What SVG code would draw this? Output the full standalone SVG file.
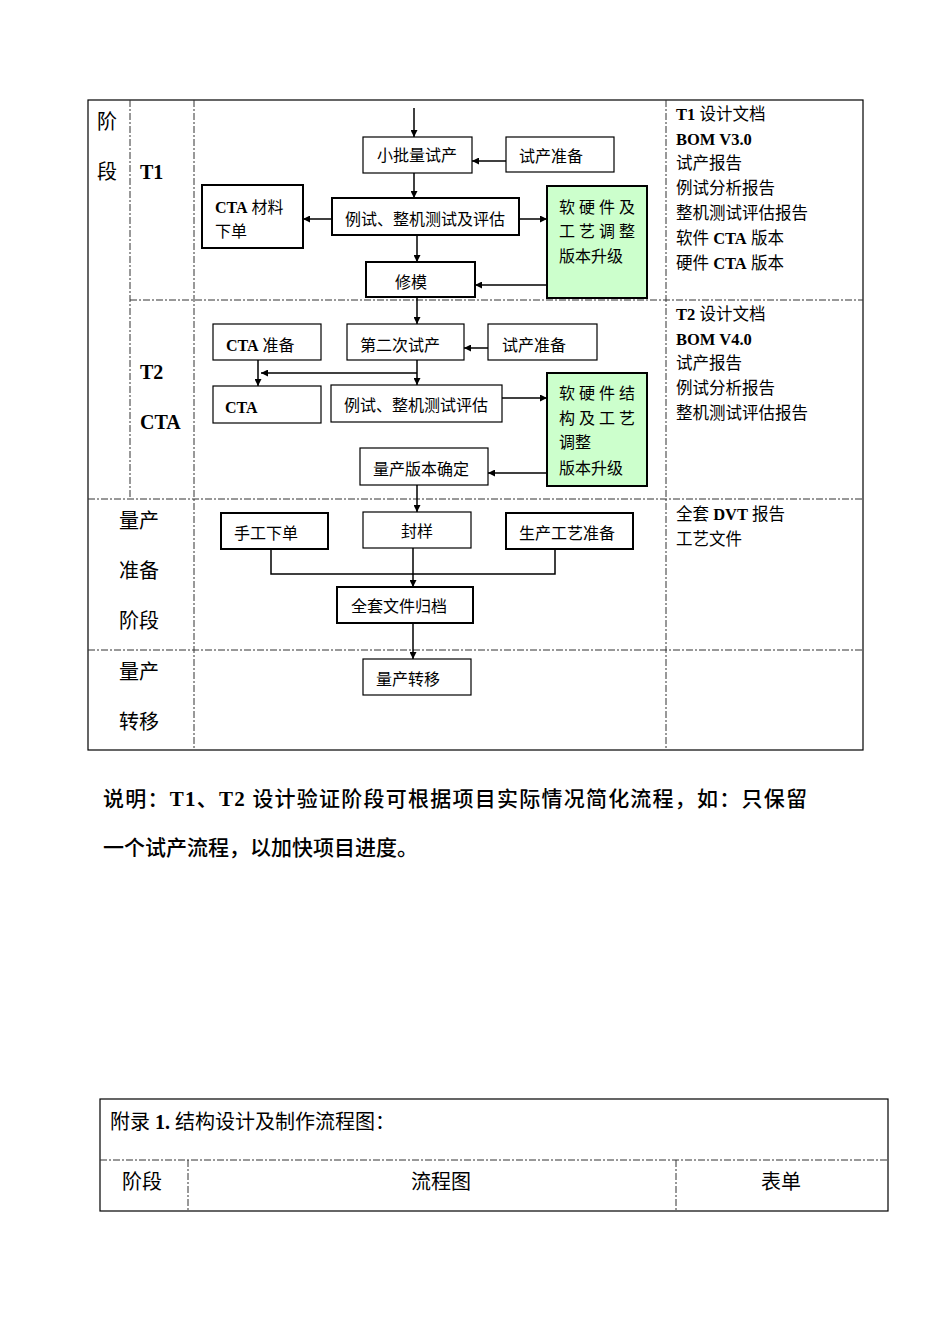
<svg xmlns="http://www.w3.org/2000/svg" width="950" height="1344" viewBox="0 0 950 1344">
<defs>
<style>
.t{font-family:"Liberation Serif","Noto Sans CJK SC",serif;font-size:16px;fill:#000}
.r{font-size:16.5px}
.b{font-weight:bold}
.lbl{font-family:"Liberation Serif","Noto Sans CJK SC",serif;font-size:20px;fill:#000}
.note{font-family:"Liberation Serif","Noto Sans CJK SC",serif;font-size:21px;fill:#000;font-weight:500}
.box{fill:#fff;stroke:#000;stroke-width:1.2}
.boxb{fill:#fff;stroke:#000;stroke-width:2}
.green{fill:#ccffcc;stroke:#000;stroke-width:2}
.grid{fill:none;stroke:#333;stroke-width:1;stroke-dasharray:7 2 2 2}
.frame{fill:none;stroke:#000;stroke-width:1.2}
.c{fill:none;stroke:#000;stroke-width:1.5}
.ca{fill:none;stroke:#000;stroke-width:1.5;marker-end:url(#ah)}
</style>
<marker id="ah" viewBox="0 0 10 10" refX="10" refY="5" markerWidth="7" markerHeight="7" markerUnits="userSpaceOnUse" orient="auto">
<path d="M0,0 L10,5 L0,10 z" fill="#000"/>
</marker>
</defs>

<g id="table">
<rect class="frame" x="88" y="100" width="775" height="650"/>
<line class="grid" x1="130" y1="100" x2="130" y2="499"/>
<line class="grid" x1="194" y1="100" x2="194" y2="750"/>
<line class="grid" x1="666" y1="100" x2="666" y2="750"/>
<line class="grid" x1="130" y1="300" x2="863" y2="300"/>
<line class="grid" x1="88" y1="499" x2="863" y2="499"/>
<line class="grid" x1="88" y1="650" x2="863" y2="650"/>
</g>

<g id="labels">
<text class="lbl" x="97" y="129">阶</text>
<text class="lbl" x="97" y="179">段</text>
<text class="lbl b" x="140" y="179">T1</text>
<text class="lbl b" x="140" y="379">T2</text>
<text class="lbl b" x="140" y="429">CTA</text>
<text class="lbl" x="119" y="528">量产</text>
<text class="lbl" x="119" y="578">准备</text>
<text class="lbl" x="119" y="628">阶段</text>
<text class="lbl" x="119" y="679">量产</text>
<text class="lbl" x="119" y="729">转移</text>
</g>

<g id="forms">
<text class="t r" x="676" y="120"><tspan class="b">T1</tspan> 设计文档</text>
<text class="t r b" x="676" y="145">BOM V3.0</text>
<text class="t r" x="676" y="169">试产报告</text>
<text class="t r" x="676" y="194">例试分析报告</text>
<text class="t r" x="676" y="219">整机测试评估报告</text>
<text class="t r" x="676" y="244">软件 <tspan class="b">CTA</tspan> 版本</text>
<text class="t r" x="676" y="269">硬件 <tspan class="b">CTA</tspan> 版本</text>
<text class="t r" x="676" y="320"><tspan class="b">T2</tspan> 设计文档</text>
<text class="t r b" x="676" y="345">BOM V4.0</text>
<text class="t r" x="676" y="369">试产报告</text>
<text class="t r" x="676" y="394">例试分析报告</text>
<text class="t r" x="676" y="419">整机测试评估报告</text>
<text class="t r" x="676" y="520">全套 <tspan class="b">DVT</tspan> 报告</text>
<text class="t r" x="676" y="545">工艺文件</text>
</g>

<g id="connectors">
<line class="ca" x1="414" y1="108" x2="414" y2="137"/>
<line class="ca" x1="506" y1="161" x2="472" y2="161"/>
<line class="ca" x1="414" y1="173" x2="414" y2="198"/>
<line class="ca" x1="332" y1="219" x2="303" y2="219"/>
<line class="ca" x1="519" y1="219" x2="547" y2="219"/>
<line class="ca" x1="417" y1="235" x2="417" y2="262"/>
<line class="ca" x1="547" y1="285" x2="475" y2="285"/>
<line class="ca" x1="417" y1="297" x2="417" y2="324"/>
<line class="ca" x1="488" y1="348" x2="464" y2="348"/>
<line class="ca" x1="417" y1="360" x2="417" y2="385"/>
<line class="ca" x1="417" y1="373" x2="261" y2="373"/>
<line class="ca" x1="258" y1="360" x2="258" y2="386"/>
<line class="ca" x1="502" y1="398" x2="547" y2="398"/>
<line class="ca" x1="547" y1="473" x2="488" y2="473"/>
<line class="ca" x1="417" y1="485" x2="417" y2="512"/>
<polyline class="c" points="271,549 271,574 555,574 555,549"/>
<line class="ca" x1="413" y1="548" x2="413" y2="587"/>
<line class="ca" x1="413" y1="623" x2="413" y2="659"/>
</g>

<g id="n_xiaopiliang"><rect class="box" x="363" y="137" width="109" height="36"/><text class="t" x="417" y="161" text-anchor="middle">小批量试产</text></g>
<g id="n_shichan1"><rect class="box" x="506" y="137" width="108" height="35"/><text class="t" x="519" y="162">试产准备</text></g>
<g id="n_cta_order"><rect class="boxb" x="202" y="185" width="101" height="63"/><text class="t" x="215" y="213"><tspan class="b">CTA</tspan> 材料</text><text class="t" x="215" y="237">下单</text></g>
<g id="n_test1"><rect class="boxb" x="332" y="198" width="187" height="37"/><text class="t" x="425" y="225" text-anchor="middle">例试、整机测试及评估</text></g>
<g id="n_green1"><rect class="green" x="547" y="186" width="100" height="112"/><text class="t" x="559" y="213" textLength="76" lengthAdjust="spacing">软硬件及</text><text class="t" x="559" y="237" textLength="76" lengthAdjust="spacing">工艺调整</text><text class="t" x="559" y="262">版本升级</text></g>
<g id="n_xiumo"><rect class="boxb" x="366" y="262" width="109" height="35"/><text class="t" x="395" y="288">修模</text></g>
<g id="n_cta_prep"><rect class="box" x="213" y="324" width="108" height="36"/><text class="t" x="226" y="351"><tspan class="b">CTA</tspan> 准备</text></g>
<g id="n_second"><rect class="box" x="347" y="324" width="117" height="36"/><text class="t" x="360" y="351">第二次试产</text></g>
<g id="n_shichan2"><rect class="box" x="488" y="324" width="109" height="36"/><text class="t" x="502" y="351">试产准备</text></g>
<g id="n_cta"><rect class="box" x="213" y="386" width="108" height="37"/><text class="t b" x="225" y="413">CTA</text></g>
<g id="n_test2"><rect class="box" x="331" y="385" width="171" height="37"/><text class="t" x="344" y="411">例试、整机测试评估</text></g>
<g id="n_green2"><rect class="green" x="547" y="373" width="100" height="113"/><text class="t" x="559" y="399" textLength="76" lengthAdjust="spacing">软硬件结</text><text class="t" x="559" y="424" textLength="76" lengthAdjust="spacing">构及工艺</text><text class="t" x="559" y="448">调整</text><text class="t" x="559" y="474">版本升级</text></g>
<g id="n_version"><rect class="box" x="360" y="448" width="128" height="37"/><text class="t" x="373" y="475">量产版本确定</text></g>
<g id="n_manual"><rect class="boxb" x="221" y="513" width="107" height="36"/><text class="t" x="234" y="539">手工下单</text></g>
<g id="n_seal"><rect class="box" x="363" y="512" width="108" height="36"/><text class="t" x="417" y="537" text-anchor="middle">封样</text></g>
<g id="n_process"><rect class="boxb" x="506" y="513" width="127" height="36"/><text class="t" x="519" y="539">生产工艺准备</text></g>
<g id="n_archive"><rect class="boxb" x="337" y="587" width="136" height="36"/><text class="t" x="351" y="612">全套文件归档</text></g>
<g id="n_transfer"><rect class="box" x="363" y="659" width="108" height="36"/><text class="t" x="376" y="685">量产转移</text></g>

<g id="note">
<text class="note" x="103" y="806" textLength="704" lengthAdjust="spacing">说明：<tspan class="b">T1</tspan>、<tspan class="b">T2</tspan> 设计验证阶段可根据项目实际情况简化流程，如：只保留</text>
<text class="note" x="103" y="855">一个试产流程，以加快项目进度。</text>
</g>

<g id="appendix">
<rect class="frame" x="100" y="1099" width="788" height="112"/>
<line class="grid" x1="100" y1="1160" x2="888" y2="1160"/>
<line class="grid" x1="188" y1="1160" x2="188" y2="1211"/>
<line class="grid" x1="676" y1="1160" x2="676" y2="1211"/>
<text class="lbl" x="110" y="1129">附录 <tspan class="b">1.</tspan> 结构设计及制作流程图：</text>
<text class="lbl" x="122" y="1189">阶段</text>
<text class="lbl" x="441" y="1189" text-anchor="middle">流程图</text>
<text class="lbl" x="781" y="1189" text-anchor="middle">表单</text>
</g>
</svg>
